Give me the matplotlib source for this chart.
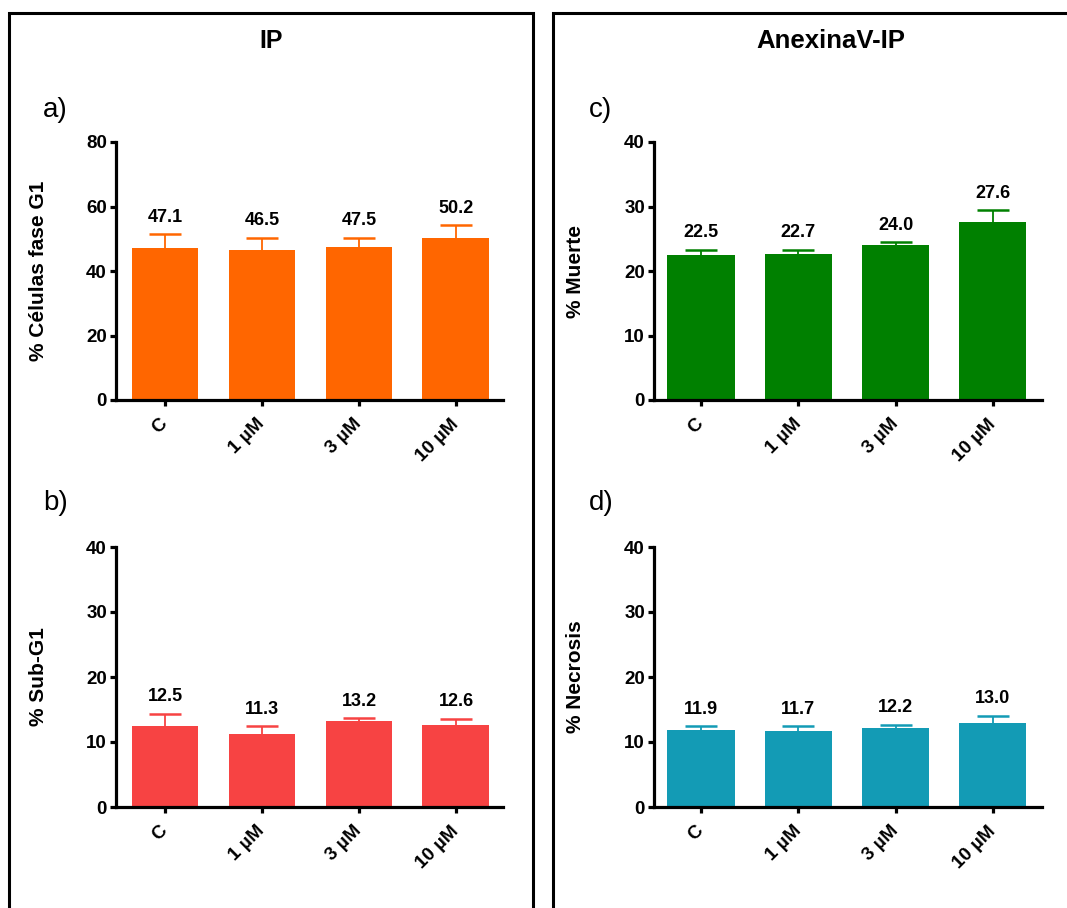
import matplotlib
matplotlib.use('Agg')
import matplotlib.pyplot as plt
import numpy as np
from matplotlib.patches import Rectangle

plt.rcParams['font.family'] = ['Liberation Sans', 'DejaVu Sans']

# ---------------- data ----------------
categories = ['C', '1 µM', '3 µM', '10 µM']

g1_vals = [47.1, 46.5, 47.5, 50.2]
g1_err = [4.3, 3.8, 2.8, 4.0]

subg1_vals = [12.5, 11.3, 13.2, 12.6]
subg1_err = [1.86, 1.1, 0.44, 1.0]

muerte_vals = [22.5, 22.7, 24.0, 27.6]
muerte_err = [0.8, 0.6, 0.5, 1.8]

necrosis_vals = [11.9, 11.7, 12.2, 13.0]
necrosis_err = [0.5, 0.7, 0.47, 1.05]

yticks_g1 = [0, 20, 40, 60, 80]
yticks_40 = [0, 10, 20, 30, 40]

# ---------------- figure ----------------
W, H = 1067, 908
fig = plt.figure(figsize=(W / 100, H / 100), dpi=100)


def ax_at(l, r, t, b):
    return fig.add_axes([l / W, 1 - b / H, (r - l) / W, (b - t) / H])


def panel(ax, vals, errs, color, ylabel, yticks, xlim, label_x):
    x = np.arange(len(categories))
    ax.bar(x, vals, width=0.69, color=color, zorder=2)
    eb = ax.errorbar(x, vals, yerr=[np.zeros(len(vals)), errs], fmt='none',
                     ecolor=color, elinewidth=1.3, capsize=11.5,
                     capthick=1.8, zorder=1)
    # keep only the upper caps
    caps = eb[1]
    if len(caps) >= 2:
        caps[0].set_visible(False)
    for xi, v, e in zip(x, vals, errs):
        ax.annotate(f'{v:.1f}', (xi, v + e), xytext=(0, 6),
                    textcoords='offset points', ha='center', va='bottom',
                    fontsize=13, fontweight='bold')
    ax.set_xlim(*xlim)
    ax.set_ylim(yticks[0], yticks[-1])
    for s in ['top', 'right']:
        ax.spines[s].set_visible(False)
    for s in ['left', 'bottom']:
        ax.spines[s].set_linewidth(2.3)
    ax.set_yticks(yticks)
    ax.set_yticklabels([str(t) for t in yticks], fontsize=13.5,
                       fontweight='bold')
    ax.set_xticks(x)
    ax.set_xticklabels(categories, rotation=45, ha='right', va='center',
                       rotation_mode='anchor', fontsize=13.5,
                       fontweight='bold')
    ax.tick_params(axis='both', width=2.3, length=4.5)
    ax.tick_params(axis='y', pad=2)
    ax.tick_params(axis='x', pad=11)
    ax.set_ylabel(ylabel, fontsize=15, fontweight='bold')
    ax.yaxis.set_label_coords(label_x, 0.5)
    ax.patch.set_alpha(0)


# left column axes
ax_a = ax_at(116, 503, 142, 400)
ax_b = ax_at(116, 503, 547, 807)
# right column axes
ax_c = ax_at(654, 1042, 142, 400)
ax_d = ax_at(654, 1042, 547, 807)

xlim_left = (-0.505, 3.485)
xlim_right = (-0.483, 3.505)

panel(ax_a, g1_vals, g1_err, '#FF6600', '% Células fase G1', yticks_g1,
      xlim_left, (48 - 116) / 387)
panel(ax_b, subg1_vals, subg1_err, '#F74343', '% Sub-G1', yticks_40,
      xlim_left, (48 - 116) / 387)
panel(ax_c, muerte_vals, muerte_err, '#008000', '% Muerte', yticks_40,
      xlim_right, (585 - 654) / 388)
panel(ax_d, necrosis_vals, necrosis_err, '#139BB5', '% Necrosis', yticks_40,
      xlim_right, (585 - 654) / 388)

# panel frames
top = 1 - 13 / H
fig.patches.append(Rectangle((8.5 / W, -0.1), (533 - 8.5) / W, top + 0.1,
                             transform=fig.transFigure, fill=False,
                             lw=2.2, ec='black', zorder=0))
fig.patches.append(Rectangle((553 / W, -0.1), (1100 - 553) / W, top + 0.1,
                             transform=fig.transFigure, fill=False,
                             lw=2.2, ec='black', zorder=0))

# titles
fig.text(271 / W, 1 - 41 / H, 'IP', ha='center', va='center',
         fontsize=18, fontweight='bold')
fig.text(831 / W, 1 - 41 / H, 'AnexinaV-IP', ha='center', va='center',
         fontsize=18.5, fontweight='bold')

# panel letters
for txt, px, py in [('a)', 43, 110), ('b)', 43, 503),
                    ('c)', 589, 110), ('d)', 589, 503)]:
    fig.text(px / W, 1 - py / H, txt, ha='left', va='center', fontsize=20)

fig.savefig('out.png', dpi=100)
